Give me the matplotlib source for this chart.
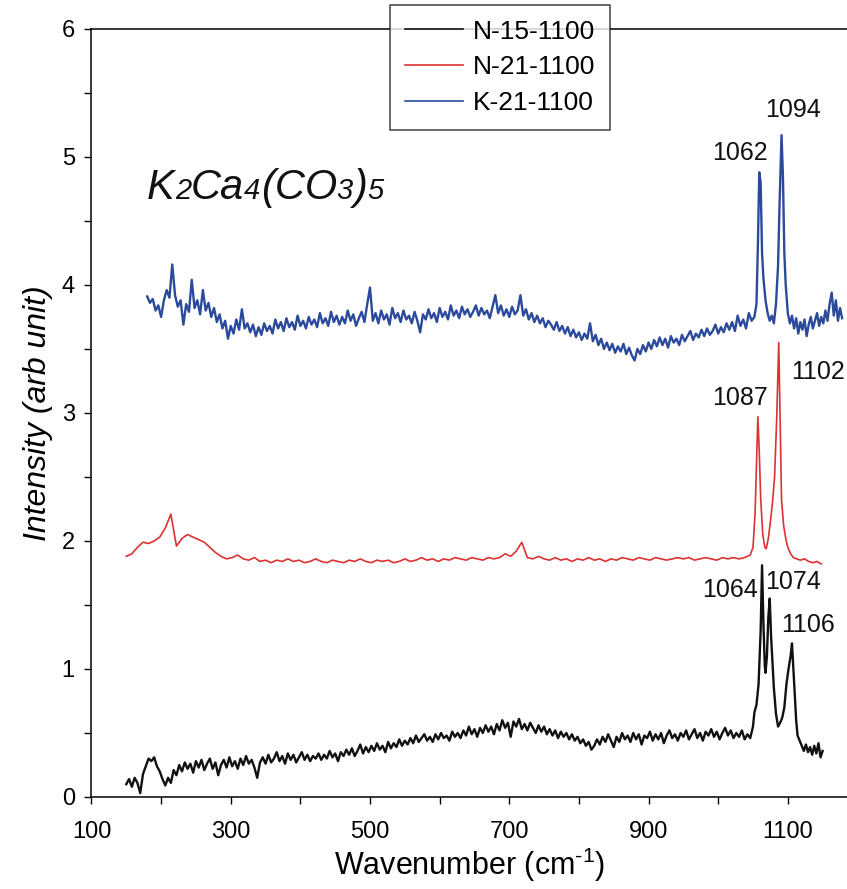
import numpy as np
import matplotlib
matplotlib.use("Agg")
import matplotlib.pyplot as plt
from matplotlib.ticker import FixedLocator, MultipleLocator
from matplotlib.offsetbox import TextArea, HPacker, AnchoredOffsetbox

plt.rcParams["font.family"] = ["Liberation Sans", "DejaVu Sans"]
plt.rcParams["mathtext.fontset"] = "custom"
plt.rcParams["mathtext.rm"] = "Liberation Sans"
plt.rcParams["mathtext.it"] = "Liberation Sans:italic"

# ---- N-15-1100 (black), baseline every 4 cm-1, then the peak region ----
n15_base_x = np.arange(150, 1047, 4)
n15_base_y = [
    0.10, 0.14, 0.08, 0.15, 0.11, 0.03, 0.18, 0.24, 0.30, 0.28,
    0.31, 0.24, 0.20, 0.14, 0.09, 0.15, 0.11, 0.21, 0.17, 0.25,
    0.20, 0.27, 0.22, 0.26, 0.19, 0.28, 0.23, 0.29, 0.21, 0.26,
    0.30, 0.22, 0.27, 0.17, 0.25, 0.29, 0.23, 0.31, 0.24, 0.28,
    0.22, 0.30, 0.25, 0.32, 0.26, 0.29, 0.23, 0.15, 0.27, 0.31,
    0.26, 0.33, 0.27, 0.30, 0.35, 0.28, 0.32, 0.26, 0.34, 0.29,
    0.33, 0.27, 0.31, 0.35, 0.29, 0.33, 0.28, 0.32, 0.30, 0.34,
    0.29, 0.33, 0.30, 0.36, 0.31, 0.34, 0.28, 0.35, 0.32, 0.37,
    0.33, 0.38, 0.32, 0.36, 0.41, 0.34, 0.39, 0.35, 0.40, 0.36,
    0.42, 0.37, 0.40, 0.35, 0.43, 0.38, 0.42, 0.39, 0.45, 0.40,
    0.44, 0.41, 0.46, 0.42, 0.48, 0.43, 0.46, 0.49, 0.44, 0.47,
    0.43, 0.49, 0.45, 0.50, 0.46, 0.48, 0.44, 0.51, 0.47, 0.50,
    0.46, 0.52, 0.48, 0.55, 0.49, 0.53, 0.47, 0.54, 0.50, 0.56,
    0.51, 0.55, 0.49, 0.57, 0.52, 0.60, 0.54, 0.58, 0.47, 0.59,
    0.55, 0.61, 0.53, 0.57, 0.52, 0.58, 0.54, 0.50, 0.56, 0.51,
    0.55, 0.49, 0.53, 0.48, 0.52, 0.46, 0.51, 0.47, 0.50, 0.45,
    0.49, 0.44, 0.47, 0.42, 0.45, 0.40, 0.43, 0.37, 0.40, 0.45,
    0.41, 0.47, 0.43, 0.49, 0.44, 0.39, 0.47, 0.43, 0.50, 0.45,
    0.48, 0.43, 0.50, 0.45, 0.49, 0.41, 0.48, 0.46, 0.51, 0.44,
    0.49, 0.45, 0.50, 0.42, 0.48, 0.52, 0.46, 0.49, 0.44, 0.50,
    0.47, 0.52, 0.45, 0.49, 0.53, 0.46, 0.50, 0.44, 0.51, 0.48,
    0.53, 0.47, 0.51, 0.45, 0.50, 0.54, 0.48, 0.52, 0.46, 0.50,
    0.47, 0.52, 0.45, 0.49, 0.46,
]
n15_peak_x = [1050, 1052, 1055, 1058, 1061, 1063, 1065, 1067, 1068, 1070,
              1072, 1074, 1076, 1078, 1080, 1083, 1086, 1089, 1092, 1095,
              1098, 1101, 1104, 1106, 1108, 1110, 1112, 1114, 1117, 1120,
              1123, 1126, 1129, 1132, 1135, 1138, 1141, 1144, 1147, 1150]
n15_peak_y = [0.55, 0.66, 0.72, 0.88, 1.30, 1.81, 1.35, 1.02, 0.97, 1.10,
              1.40, 1.55, 1.25, 1.05, 0.85, 0.65, 0.55, 0.58, 0.62, 0.70,
              0.88, 1.00, 1.10, 1.20, 1.00, 0.80, 0.60, 0.48, 0.44, 0.40,
              0.36, 0.41, 0.35, 0.39, 0.33, 0.40, 0.34, 0.42, 0.31, 0.36]

# ---- N-21-1100 (red), baseline every 8 cm-1 ----
n21_base_x = np.arange(150, 1047, 8)
n21_base_y = [
    1.88, 1.90, 1.95, 1.99, 1.98, 2.00, 2.03, 2.10, 2.21, 1.96,
    2.02, 2.05, 2.03, 2.01, 1.99, 1.95, 1.91, 1.88, 1.86, 1.87,
    1.89, 1.86, 1.85, 1.87, 1.84, 1.85, 1.83, 1.85, 1.84, 1.86,
    1.84, 1.85, 1.83, 1.84, 1.86, 1.84, 1.83, 1.85, 1.84, 1.83,
    1.85, 1.84, 1.86, 1.84, 1.83, 1.85, 1.84, 1.85, 1.83, 1.84,
    1.86, 1.84, 1.85, 1.87, 1.85, 1.86, 1.84, 1.86, 1.85, 1.87,
    1.86, 1.85, 1.87, 1.86, 1.85, 1.87, 1.86, 1.87, 1.90, 1.88,
    1.92, 1.99, 1.87, 1.86, 1.88, 1.86, 1.85, 1.87, 1.85, 1.86,
    1.84, 1.86, 1.85, 1.87, 1.85, 1.86, 1.84, 1.86, 1.85, 1.87,
    1.86, 1.85, 1.87, 1.86, 1.85, 1.87, 1.86, 1.85, 1.86, 1.87,
    1.86, 1.87, 1.85, 1.86, 1.87, 1.86, 1.85, 1.87, 1.86, 1.87,
    1.86, 1.87, 1.89,
]
n21_peak_x = [1050, 1053, 1055, 1057, 1059, 1061, 1064, 1067, 1069, 1072,
              1075, 1078, 1081, 1084, 1087, 1089, 1091, 1094, 1097, 1100,
              1104, 1108, 1113, 1118, 1124, 1130, 1136, 1142, 1148]
n21_peak_y = [1.95, 2.22, 2.60, 2.97, 2.70, 2.34, 2.05, 1.95, 1.94, 2.02,
              2.15, 2.30, 2.50, 2.95, 3.55, 2.95, 2.32, 2.12, 2.02, 1.95,
              1.90, 1.87, 1.86, 1.85, 1.86, 1.84, 1.83, 1.84, 1.82]

# ---- K-21-1100 (blue), baseline every 4 cm-1 ----
k21_base_x = np.arange(180, 1049, 4)
k21_base_y = [
    3.91, 3.86, 3.89, 3.80, 3.84, 3.75, 3.88, 3.96, 3.90, 4.16,
    3.92, 3.83, 3.88, 3.69, 3.85, 3.79, 4.04, 3.82, 3.88, 3.77,
    3.96, 3.80, 3.86, 3.75, 3.82, 3.71, 3.77, 3.66, 3.72, 3.58,
    3.68, 3.62, 3.73, 3.65, 3.81, 3.66, 3.70, 3.63, 3.69, 3.60,
    3.67, 3.61, 3.70, 3.64, 3.68, 3.62, 3.73, 3.66, 3.71, 3.64,
    3.74, 3.67, 3.71, 3.65, 3.76, 3.68, 3.72, 3.66, 3.75, 3.69,
    3.73, 3.67, 3.78, 3.70, 3.74, 3.68, 3.79, 3.71, 3.76, 3.69,
    3.75, 3.70, 3.80, 3.72, 3.77, 3.68, 3.74, 3.79, 3.71, 3.85,
    3.98, 3.72, 3.78, 3.70, 3.80, 3.73, 3.77, 3.69, 3.82, 3.74,
    3.78, 3.71, 3.80, 3.73, 3.76, 3.70, 3.79, 3.72, 3.63, 3.77,
    3.73, 3.81, 3.74, 3.78, 3.71, 3.82, 3.75, 3.79, 3.73, 3.84,
    3.76, 3.80, 3.74, 3.83, 3.77, 3.81, 3.75, 3.79, 3.84, 3.76,
    3.82, 3.77, 3.80, 3.74, 3.83, 3.92, 3.78, 3.84, 3.76, 3.81,
    3.75, 3.83, 3.77, 3.80, 3.92, 3.76, 3.81, 3.73, 3.78, 3.71,
    3.76, 3.70, 3.74, 3.67, 3.72, 3.69, 3.65, 3.71, 3.64, 3.68,
    3.62, 3.67, 3.60, 3.65, 3.59, 3.63, 3.57, 3.62, 3.58, 3.70,
    3.56, 3.61, 3.53, 3.58, 3.50, 3.55, 3.49, 3.54, 3.47, 3.52,
    3.48, 3.54, 3.46, 3.51, 3.45, 3.41, 3.50, 3.46, 3.53, 3.48,
    3.55, 3.50, 3.57, 3.52, 3.59, 3.53, 3.58, 3.51, 3.60, 3.55,
    3.58, 3.53, 3.61, 3.56, 3.60, 3.64, 3.57, 3.62, 3.59, 3.65,
    3.60, 3.66, 3.61, 3.64, 3.69, 3.62, 3.67, 3.63, 3.70, 3.65,
    3.71, 3.64, 3.76, 3.68, 3.73, 3.66, 3.78, 3.72,
]
k21_peak_x = [1052, 1055, 1057, 1059, 1061, 1063, 1065, 1068, 1071, 1074,
              1077, 1080, 1083, 1086, 1088, 1091, 1093, 1095, 1097, 1100,
              1103, 1106, 1109, 1112, 1115, 1118, 1121, 1124, 1127, 1130,
              1133, 1136, 1139, 1142, 1145, 1148, 1151, 1154, 1157, 1160,
              1163, 1166, 1169, 1172, 1175, 1178]
k21_peak_y = [3.75, 3.85, 4.30, 4.88, 4.80, 4.25, 4.05, 3.88, 3.78, 3.72,
              3.76, 3.70, 3.85, 4.15, 4.60, 5.17, 4.85, 4.25, 4.00, 3.78,
              3.70, 3.76, 3.66, 3.74, 3.62, 3.71, 3.65, 3.73, 3.60, 3.69,
              3.75, 3.66, 3.72, 3.78, 3.68, 3.75, 3.70, 3.80, 3.72, 3.85,
              3.94, 3.76, 3.88, 3.72, 3.82, 3.74]

# peak labels
peak_labels = ["1062", "1094", "1087", "1102", "1064", "1074", "1106"]
label_x = [1031, 1107, 1031, 1143, 1017, 1107, 1129]
label_y = [5.03, 5.37, 3.12, 3.32, 1.62, 1.68, 1.34]

x_ticks = [100, 300, 500, 700, 900, 1100]

fig = plt.figure(figsize=(8.47, 8.89), dpi=100)
ax = fig.add_axes([0.108, 0.1035, 0.892, 0.864])

ax.plot(np.concatenate([n15_base_x, n15_peak_x]), n15_base_y + n15_peak_y,
        color="#111111", lw=1.7, label="N-15-1100")
ax.plot(np.concatenate([n21_base_x, n21_peak_x]), n21_base_y + n21_peak_y,
        color="#dc3232", lw=1.2, label="N-21-1100")
ax.plot(np.concatenate([k21_base_x, k21_peak_x]), k21_base_y + k21_peak_y,
        color="#2b4a9c", lw=1.7, label="K-21-1100")

for t, x, y in zip(peak_labels, label_x, label_y):
    ax.text(x, y, t, fontsize=18, ha="center", va="center", color="#111111")

ax.set_xlim(100, 1185)
ax.set_ylim(0, 6)
ax.xaxis.set_major_locator(FixedLocator(x_ticks))
ax.xaxis.set_minor_locator(MultipleLocator(100))
ax.yaxis.set_major_locator(MultipleLocator(1))
ax.yaxis.set_minor_locator(MultipleLocator(0.5))
ax.tick_params(which="both", direction="out", length=5, width=1, top=False, right=False)
ax.tick_params(axis="x", which="major", labelsize=17, pad=12)
ax.tick_params(axis="y", which="major", labelsize=17, pad=7)
ax.spines["right"].set_visible(False)
for s in ["left", "bottom", "top"]:
    ax.spines[s].set_linewidth(1.1)

ax.set_xlabel(r"Wavenumber (cm$^{\text{-1}}$)", fontsize=22, labelpad=2)
ax.set_ylabel("Intensity (arb unit)", fontsize=23, style="italic", labelpad=6)

# compound name with small baseline digits
parts = [("K", 30), ("2", 21), ("Ca", 30), ("4", 21), ("(CO", 30), ("3", 21), (")", 30), ("5", 21)]
boxes = [TextArea(txt, textprops=dict(fontsize=fs, style="italic", color="#111111"))
         for txt, fs in parts]
pack = HPacker(children=boxes, align="baseline", pad=0, sep=0)
ab = AnchoredOffsetbox(loc="lower left", child=pack, frameon=False, pad=0, borderpad=0,
                       bbox_to_anchor=(180, 4.6), bbox_transform=ax.transData)
ax.add_artist(ab)

leg = fig.legend(loc="upper center", bbox_to_anchor=(500 / 847, 1 - 5 / 889),
                 fontsize=19, frameon=True, fancybox=False, edgecolor="#111111",
                 handlelength=2.2, labelspacing=0.45, borderpad=0.55, handletextpad=0.4,
                 borderaxespad=0)
leg.get_frame().set_linewidth(1.1)
for h in leg.get_lines():
    h.set_linewidth(1.2)

fig.savefig("out.png", dpi=100)
